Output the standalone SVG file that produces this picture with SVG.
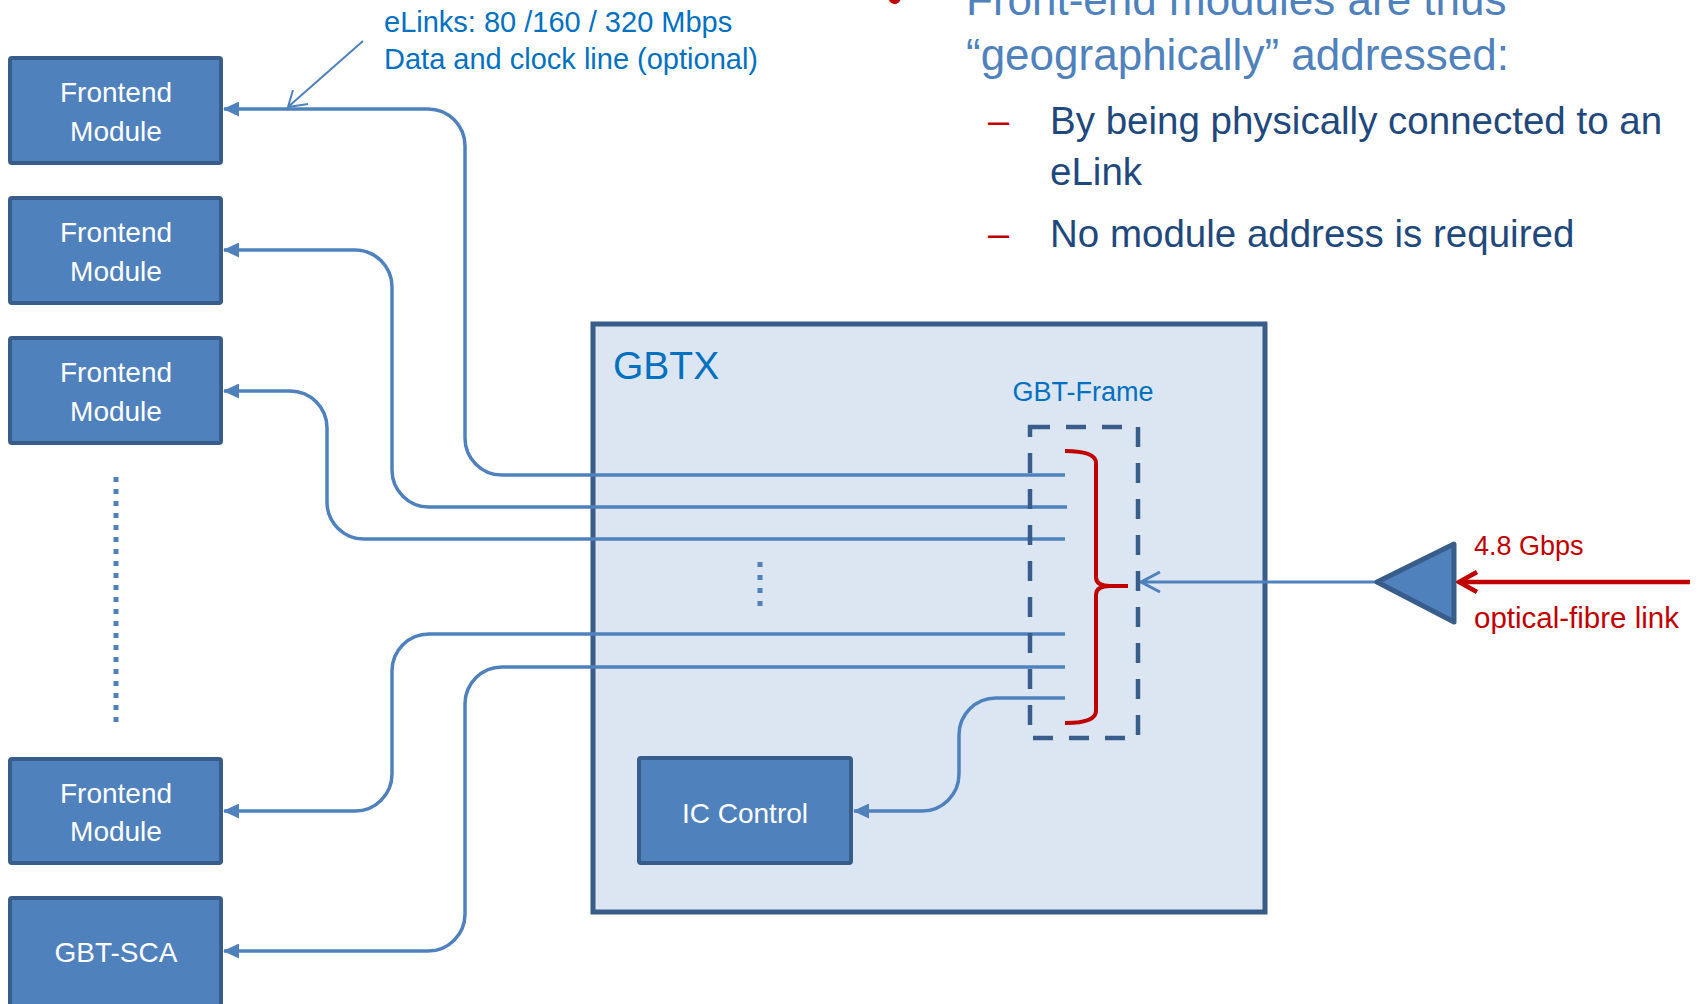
<svg xmlns="http://www.w3.org/2000/svg" width="1700" height="1004" viewBox="0 0 1700 1004">
<style>
.node{fill:#4f81bd;stroke:#385d8a;stroke-width:4}
.ntxt{font-family:"Liberation Sans",Arial,sans-serif;font-size:28px;fill:#ffffff;text-anchor:middle}
.conn{fill:none;stroke:#4f81bd;stroke-width:3.5}
.blue{font-family:"Liberation Sans",Arial,sans-serif;fill:#0070c0}
.red{font-family:"Liberation Sans",Arial,sans-serif;fill:#c00000}
.dark{font-family:"Liberation Sans",Arial,sans-serif;fill:#1f497d;font-size:38.5px}
.head{font-family:"Liberation Sans",Arial,sans-serif;fill:#4f81bd;font-size:44px}
</style>
<defs>
<marker id="ah" markerUnits="userSpaceOnUse" viewBox="0 0 16 15" refX="15" refY="7.5" markerWidth="16" markerHeight="15" orient="auto">
<path d="M0,0 L16,7.5 L0,15 z" fill="#4f81bd"/>
</marker>
</defs>
<rect width="1700" height="1004" fill="#ffffff"/>

<g id="text-top">
<text class="red" x="887" y="13" font-size="44">•</text>
<text class="head" x="966" y="15">Front-end modules are thus</text>
<text class="head" x="966" y="70">“geographically” addressed:</text>
<text class="red" x="988" y="134" font-size="38">–</text>
<text class="dark" x="1050" y="134">By being physically connected to an</text>
<text class="dark" x="1050" y="185">eLink</text>
<text class="red" x="988" y="247" font-size="38">–</text>
<text class="dark" x="1050" y="247">No module address is required</text>
<text class="blue" x="384" y="32" font-size="29">eLinks: 80 /160 / 320 Mbps</text>
<text class="blue" x="384" y="69" font-size="29">Data and clock line (optional)</text>
</g>

<g id="gbtx">
<rect x="593" y="324" width="672" height="588" fill="#dce6f2" stroke="#385d8a" stroke-width="5"/>
<text class="blue" x="613" y="379" font-size="39">GBTX</text>
<text class="blue" x="1083" y="401" font-size="27" text-anchor="middle">GBT-Frame</text>
</g>

<g id="fe1"><rect class="node" x="10" y="58" width="211" height="105" rx="2"/><text class="ntxt" x="116" y="102">Frontend</text><text class="ntxt" x="116" y="141">Module</text></g>
<g id="fe2"><rect class="node" x="10" y="198" width="211" height="105" rx="2"/><text class="ntxt" x="116" y="242">Frontend</text><text class="ntxt" x="116" y="281">Module</text></g>
<g id="fe3"><rect class="node" x="10" y="338" width="211" height="105" rx="2"/><text class="ntxt" x="116" y="382">Frontend</text><text class="ntxt" x="116" y="421">Module</text></g>
<g id="fe4"><rect class="node" x="10" y="759" width="211" height="104" rx="2"/><text class="ntxt" x="116" y="803">Frontend</text><text class="ntxt" x="116" y="841">Module</text></g>
<g id="gbtsca"><rect class="node" x="10" y="898" width="211" height="120" rx="2"/><text class="ntxt" x="116" y="962" font-size="26">GBT-SCA</text></g>

<g id="dots">
<line x1="116" y1="477" x2="116" y2="722" stroke="#4f81bd" stroke-width="5" stroke-dasharray="5 7"/>
<line x1="760" y1="562" x2="760" y2="610" stroke="#4f81bd" stroke-width="5" stroke-dasharray="5 8"/>
</g>

<g id="connectors">
<path class="conn" marker-end="url(#ah)" d="M1065,475 H502 A37,37 0 0 1 465,438 V146 A37,37 0 0 0 428,109 H224"/>
<path class="conn" marker-end="url(#ah)" d="M1067,507 H429 A37,37 0 0 1 392,470 V287 A37,37 0 0 0 355,250 H224"/>
<path class="conn" marker-end="url(#ah)" d="M1065,539 H364 A37,37 0 0 1 327,502 V428 A37,37 0 0 0 290,391 H224"/>
<path class="conn" marker-end="url(#ah)" d="M1065,634 H429 A37,37 0 0 0 392,671 V774 A37,37 0 0 1 355,811 H224"/>
<path class="conn" marker-end="url(#ah)" d="M1065,667 H502 A37,37 0 0 0 465,704 V914 A37,37 0 0 1 428,951 H224"/>
<path class="conn" marker-end="url(#ah)" d="M1065,698 H996 A37,37 0 0 0 959,735 V774 A37,37 0 0 1 922,811 H854"/>
<path fill="none" stroke="#4f81bd" stroke-width="3" d="M1377,582 H1141 M1160,572 L1141,582 L1160,592"/>
<path fill="none" stroke="#c00000" stroke-width="4.5" d="M1690,582 H1460 M1477,572 L1459,582 L1477,592"/>
<path fill="none" stroke="#4f81bd" stroke-width="2" d="M363,41 L288,107 M293,90 L288,107 L308,104"/>
</g>

<g id="gbt-frame">
<rect x="1030" y="427" width="108" height="311" fill="none" stroke="#385d8a" stroke-width="4.5" stroke-dasharray="20 16"/>
<path fill="none" stroke="#c00000" stroke-width="4" d="M1065,451 Q1096,451 1096,463 L1096,577 Q1096,586 1110,586 L1128,586 M1110,586 Q1096,586 1096,595 L1096,711 Q1096,723 1065,723"/>
</g>

<g id="ic-control"><rect class="node" x="639" y="758" width="212" height="105" rx="2"/><text class="ntxt" x="745" y="823">IC Control</text></g>

<g id="optical">
<polygon points="1377,582 1454,544 1454,622" fill="#4f81bd" stroke="#385d8a" stroke-width="5" stroke-linejoin="round"/>
<text class="red" x="1474" y="555" font-size="27">4.8 Gbps</text>
<text class="red" x="1474" y="628" font-size="29.5">optical-fibre link</text>
</g>
</svg>
